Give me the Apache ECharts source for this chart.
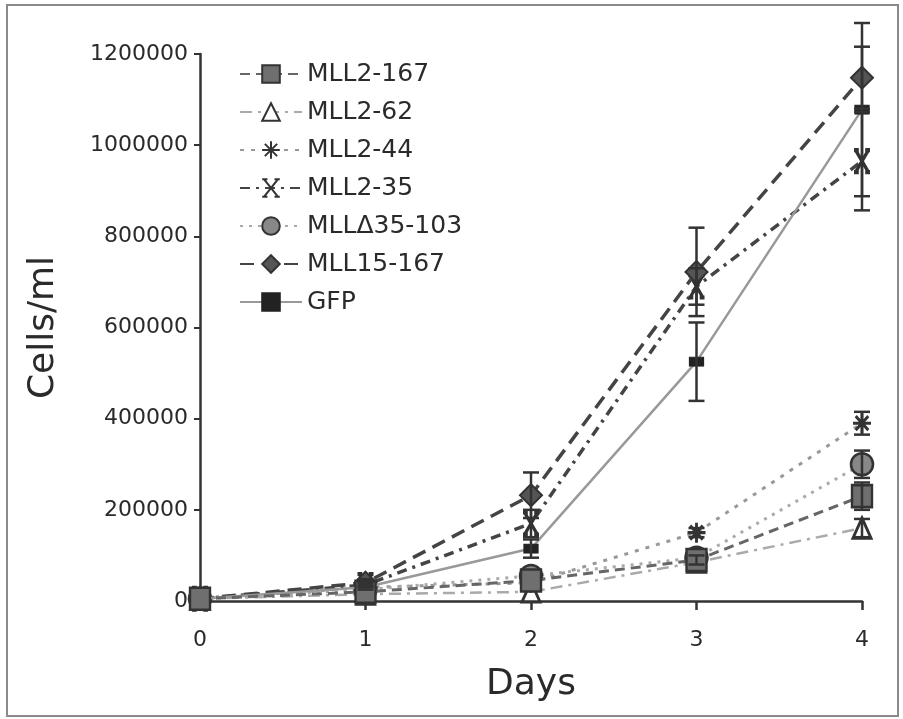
<!DOCTYPE html>
<html><head><meta charset="utf-8">
<script src="https://cdn.jsdelivr.net/npm/echarts@6/dist/echarts.min.js"></script>
<style>html,body{margin:0;padding:0;background:#fff}#frame{position:absolute;left:6px;top:4px;width:889px;height:709px;border:2px solid #8a8a8a}#c{position:absolute;left:0;top:0;width:903px;height:719px}</style>
</head><body><div id="frame"></div><div id="c"></div>
<script>
// ---- data ----
const days = [0, 1, 2, 3, 4];
const seriesNames = ['MLL2-167', 'MLL2-62', 'MLL2-44', 'MLL2-35', 'MLL\u039435-103', 'MLL15-167', 'GFP'];
const mll2_167 = [5000, 20000, 45000, 90000, 230000];
const mll2_62 = [5000, 15000, 20000, 85000, 160000];
const mll2_44 = [5000, 30000, 40000, 150000, 390000];
const mll2_35 = [5000, 35000, 170000, 690000, 965000];
const mllD35_103 = [5000, 25000, 55000, 95000, 300000];
const mll15_167 = [5000, 40000, 232000, 722000, 1148000];
const gfp = [5000, 30000, 115000, 525000, 1078000];
// symmetric error (+/-)
const mll2_167Err = [0, 0, 0, 10000, 30000];
const mll2_62Err = [0, 0, 0, 0, 20000];
const mll2_44Err = [0, 0, 0, 10000, 25000];
const mll2_35Err = [0, 5000, 30000, 40000, 108000];
const mllD35_103Err = [0, 0, 0, 0, 30000];
const mll15_167Err = [0, 8000, 50000, 97000, 68000];
const gfpErr = [0, 5000, 20000, 86000, 190000];
const yTicks = [0, 200000, 400000, 600000, 800000, 1000000, 1200000];

const values = [mll2_167, mll2_62, mll2_44, mll2_35, mllD35_103, mll15_167, gfp];
const errs = [mll2_167Err, mll2_62Err, mll2_44Err, mll2_35Err, mllD35_103Err, mll15_167Err, gfpErr];

const asterisk = 'path://M5,0 L5,10 M0,5 L10,5 M1.5,1.5 L8.5,8.5 M8.5,1.5 L1.5,8.5';
const xSym = 'path://M1,0 L9,10 M9,0 L1,10 M0,0 L3,0 M7,0 L10,0 M0,10 L3,10 M7,10 L10,10';
const styles = [
  {sym: 'rect', size: [20, 22], fill: '#6f6f6f', border: '#333', bw: 2.5, lc: '#666', lw: 3, lt: [10, 6]},
  {sym: 'triangle', size: [18, 20], fill: '#fff', border: '#333', bw: 3, lc: '#aaa', lw: 2.5, lt: [12, 6, 3, 6]},
  {sym: asterisk, size: [18, 20], fill: 'none', border: '#333', bw: 3, lc: '#999', lw: 3, lt: [4, 7]},
  {sym: xSym, size: [16, 22], fill: 'none', border: '#333', bw: 3.5, lc: '#444', lw: 3.5, lt: [10, 6, 3, 6]},
  {sym: 'circle', size: 22, fill: '#888', border: '#333', bw: 2.5, lc: '#aaa', lw: 3, lt: [3, 6]},
  {sym: 'diamond', size: 22, fill: '#555', border: '#333', bw: 2, lc: '#444', lw: 3.5, lt: [14, 8]},
  {sym: 'rect', size: [14, 9], fill: '#222', border: '#222', bw: 1, lc: '#999', lw: 2.5, lt: 'solid'}
];
const zOrder = [9, 3, 4, 5, 6, 7, 8];

const series = [];
const errData = [];
seriesNames.forEach((name, i) => {
  const st = styles[i];
  series.push({
    name: name, type: 'line', z: zOrder[i],
    data: days.map((d, k) => [d, values[i][k]]),
    symbol: st.sym, symbolSize: st.size, showAllSymbol: true,
    lineStyle: {color: st.lc, width: st.lw, type: st.lt},
    itemStyle: {color: st.fill === 'none' ? '#333' : st.fill, borderColor: st.border, borderWidth: st.bw, opacity: 1},
    emphasis: {disabled: true}, animation: false
  });
  days.forEach((d, k) => {
    if (errs[i][k] > 0) errData.push([d, values[i][k] - errs[i][k], values[i][k] + errs[i][k]]);
  });
});
series.push({
  type: 'custom', z: 20, animation: false, silent: true,
  data: errData,
  renderItem: function (params, api) {
    const x = api.value(0);
    const lo = api.coord([x, api.value(1)]);
    const hi = api.coord([x, api.value(2)]);
    const w = 8;
    const st = {stroke: '#333', lineWidth: 2.5};
    return {type: 'group', children: [
      {type: 'line', shape: {x1: lo[0], y1: lo[1], x2: hi[0], y2: hi[1]}, style: st},
      {type: 'line', shape: {x1: lo[0] - w, y1: lo[1], x2: lo[0] + w, y2: lo[1]}, style: st},
      {type: 'line', shape: {x1: hi[0] - w, y1: hi[1], x2: hi[0] + w, y2: hi[1]}, style: st}
    ]};
  },
  encode: {x: 0, y: [1, 2]}
});

const font = "'DejaVu Sans', 'Liberation Sans', Arial, sans-serif";
const chart = echarts.init(document.getElementById('c'), null, {renderer: 'canvas'});
chart.setOption({
  backgroundColor: 'transparent',
  animation: false,
  grid: {left: 200, right: 41, top: 54, bottom: 118, containLabel: false},
  legend: {
    data: seriesNames, orient: 'vertical', left: 234, top: 56,
    itemWidth: 62, itemHeight: 22, itemGap: 12,
    textStyle: {fontFamily: font, fontSize: 25, lineHeight: 26, color: '#2a2a2a'},
    selectedMode: false
  },
  xAxis: {
    type: 'value', min: 0, max: 4, interval: 1,
    name: 'Days', nameLocation: 'middle', nameGap: 66,
    nameTextStyle: {fontFamily: font, fontSize: 36, color: '#2a2a2a'},
    axisLine: {lineStyle: {color: '#333', width: 2.5}},
    axisTick: {show: true, length: 9, inside: false, lineStyle: {color: '#333', width: 2.5}},
    axisLabel: {fontFamily: font, fontSize: 22, color: '#2a2a2a', margin: 28},
    splitLine: {show: false}
  },
  yAxis: {
    type: 'value', min: yTicks[0], max: yTicks[yTicks.length - 1], interval: yTicks[1] - yTicks[0],
    name: 'Cells/ml', nameLocation: 'middle', nameGap: 138, nameRotate: 90,
    nameTextStyle: {fontFamily: font, fontSize: 36, color: '#2a2a2a'},
    axisLine: {show: true, lineStyle: {color: '#333', width: 2.5}},
    axisTick: {show: true, length: 6, lineStyle: {color: '#333', width: 2}},
    axisLabel: {fontFamily: font, fontSize: 22, color: '#2a2a2a', margin: 12, formatter: v => String(v)},
    splitLine: {show: false}
  },
  series: series
});
</script></body></html>
